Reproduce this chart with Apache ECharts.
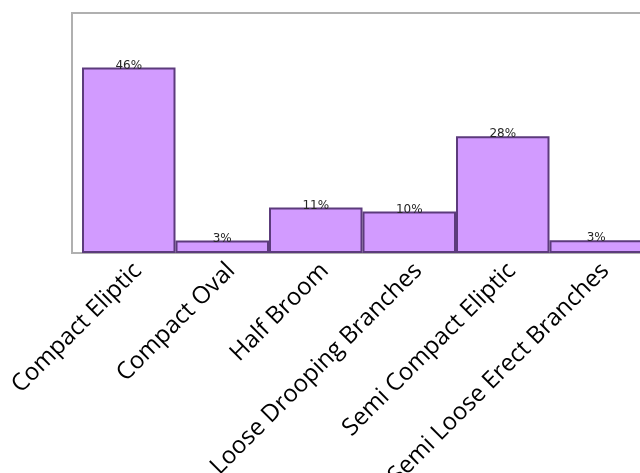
<!DOCTYPE html>
<html>
<head>
<meta charset="utf-8">
<script src="https://cdn.jsdelivr.net/npm/echarts@6/dist/echarts.min.js"></script>
<style>html,body{margin:0;padding:0;background:#fff;}#c{width:640px;height:473px;}</style>
</head>
<body>
<div id="c"></div>
<script>
const categories = ["Compact Eliptic", "Compact Oval", "Half Broom", "Loose Drooping Branches", "Semi Compact Eliptic", "Semi Loose Erect Branches"];
const values = [46.4, 3.1, 11.4, 10.4, 29.2, 3.2];
const valueLabels = ["46%", "3%", "11%", "10%", "28%", "3%"];

const chart = echarts.init(document.getElementById('c'), null, {renderer: 'canvas'});
chart.setOption({
  animation: false,
  backgroundColor: '#ffffff',
  grid: [
    {left: 72, top: 13, width: 580, height: 240, show: true, borderColor: '#b0b0b0', borderWidth: 2, backgroundColor: 'transparent', containLabel: false, outerBoundsMode: 'none'},
    {left: 82, top: 13, width: 561, height: 240, containLabel: false, outerBoundsMode: 'none'},
    {left: 91, top: 13, width: 561, height: 240, containLabel: false, outerBoundsMode: 'none'}
  ],
  xAxis: [
    {gridIndex: 0, type: 'value', show: false},
    {gridIndex: 1, type: 'category', data: categories, boundaryGap: true,
     axisLine: {show: false}, axisTick: {show: false}, axisLabel: {show: false}},
    {gridIndex: 2, type: 'category', data: categories, boundaryGap: true,
     axisLine: {show: false}, axisTick: {show: false},
     axisLabel: {rotate: 45, margin: 14, interval: 0, hideOverlap: false, fontFamily: 'Open Sans', fontSize: 24, color: '#000'}}
  ],
  yAxis: [
    {gridIndex: 0, type: 'value', show: false},
    {gridIndex: 1, type: 'value', min: 0, max: 60, show: false, splitLine: {show: false}},
    {gridIndex: 2, type: 'value', show: false, splitLine: {show: false}}
  ],
  series: [{
    type: 'bar',
    xAxisIndex: 1,
    yAxisIndex: 1,
    data: values,
    barCategoryGap: 0,
    itemStyle: {color: '#d29bff', borderColor: '#5c3b7c', borderWidth: 2},
    label: {
      show: true,
      position: 'top',
      distance: -4,
      fontFamily: 'DejaVu Sans',
      fontSize: 12,
      color: '#262626',
      formatter: p => valueLabels[p.dataIndex]
    }
  }]
});
</script>
</body>
</html>
